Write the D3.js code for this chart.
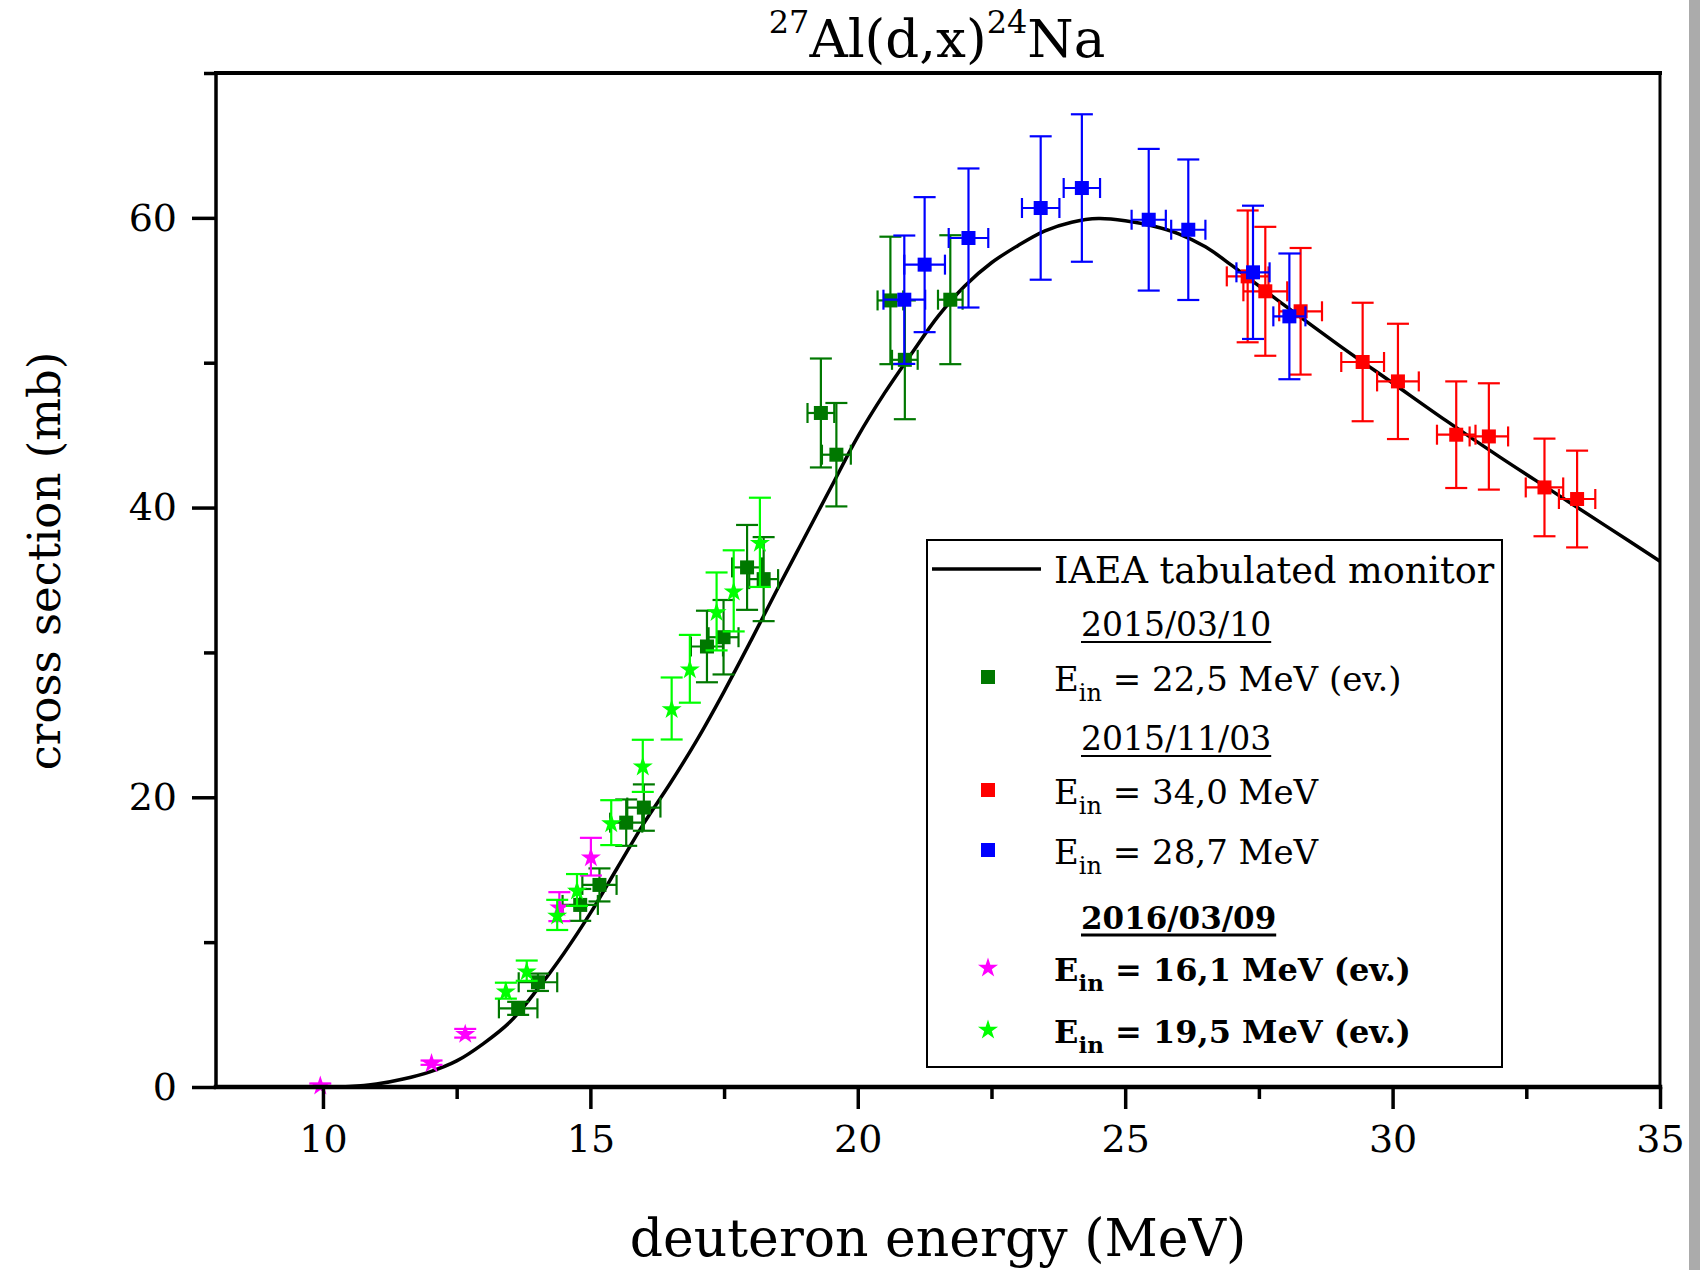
<!DOCTYPE html>
<html><head><meta charset="utf-8">
<script src="https://cdn.jsdelivr.net/npm/d3@7"></script>
<style>body{margin:0;background:#fff} svg{display:block} text{font-family:'DejaVu Serif',serif;fill:#000}</style>
</head><body><svg id="c" width="1700" height="1270"></svg>
<script>
// ---------- DATA ----------
// IAEA tabulated monitor curve
const curveE  = [10.1,10.5,11.0,11.5,12.0,12.5,13.0,13.5,14.0,14.5,15.0,15.5,16.0,16.5,17.0,17.5,18.0,18.5,19.0,19.5,20.0,20.5,21.0,21.5,22.0,22.5,23.0,23.5,24.0,24.5,25.0,25.5,26.0,26.5,27.0,27.5,28.0,29.0,30.0,31.0,32.0,33.0,34.0,35.0];
const curveXS = [0,0.03,0.2,0.55,1.05,1.8,3.0,4.5,6.7,9.2,12.0,15.1,18.2,21.0,24.0,27.3,30.8,34.4,37.9,41.4,44.9,47.9,50.6,53.2,55.3,56.9,58.1,59.1,59.7,59.95,59.8,59.45,58.9,58.0,56.7,55.3,53.9,51.2,48.6,46.0,43.5,41.1,38.7,36.3];

// 2015/03/10  Ein = 22,5 MeV (ev.)
const g225E   = [13.65,14.02,14.81,15.17,15.67,16.00,17.18,17.49,17.93,18.24,19.31,19.60,20.61,20.88,21.73];
const g225XS  = [5.43,7.23,12.57,13.95,18.25,19.29,30.41,31.05,35.87,35.06,46.53,43.65,54.30,50.20,54.35];
const g225dXS = [0.45,0.6,1.1,1.14,1.6,1.6,2.47,2.57,2.93,2.9,3.76,3.57,4.4,4.1,4.45];
const g225dE  = [0.36,0.36,0.33,0.32,0.30,0.31,0.30,0.28,0.28,0.27,0.25,0.27,0.24,0.24,0.23];

// 2015/11/03  Ein = 34,0 MeV
const r340E   = [27.29,27.62,28.28,29.44,30.10,31.19,31.80,32.84,33.45];
const r340XS  = [55.96,54.93,53.55,50.05,48.71,45.03,44.91,41.39,40.59];
const r340dXS = [4.55,4.45,4.37,4.09,3.98,3.68,3.67,3.37,3.34];
const r340dE  = [0.39,0.41,0.40,0.40,0.39,0.36,0.36,0.35,0.34];

// 2015/11/03  Ein = 28,7 MeV
const b287E   = [20.87,21.25,22.07,23.42,24.19,25.44,26.18,27.39,28.07];
const b287XS  = [54.35,56.77,58.61,60.68,62.06,59.87,59.18,56.24,53.20];
const b287dXS = [4.43,4.66,4.8,4.95,5.09,4.89,4.85,4.6,4.34];
const b287dE  = [0.39,0.38,0.37,0.35,0.34,0.32,0.32,0.31,0.30];

// 2016/03/09  Ein = 16,1 MeV (ev.)
const m161E   = [9.95,12.03,12.66,14.42,15.01];
const m161XS  = [0.14,1.68,3.71,12.45,15.90];
const m161dXS = [0.1,0.15,0.3,1.0,1.3];

// 2016/03/09  Ein = 19,5 MeV (ev.)
const l195E   = [13.42,13.81,14.38,14.75,15.39,15.98,16.52,16.86,17.36,17.68,18.17];
const l195XS  = [6.65,8.03,11.88,13.60,18.25,22.17,26.13,28.87,32.83,34.25,37.60];
const l195dXS = [0.55,0.7,1.04,1.1,1.55,1.8,2.14,2.34,2.69,2.8,3.08];

// ticks
const xMajorTicks = [10,15,20,25,30,35];
const xMinorTicks = [12.5,17.5,22.5,27.5,32.5];
const yMajorTicks = [0,20,40,60];
const yMinorTicks = [10,30,50,70];

// ---------- CHART ----------
const W = 1700, H = 1270;
const m = {l:216, r:1660, t:73, b:1087};
const svg = d3.select('#c');
const x = d3.scaleLinear().domain([8,35]).range([m.l,m.r]);
const y = d3.scaleLinear().domain([0,70]).range([m.b,m.t]);

svg.append('rect').attr('width',W).attr('height',H).attr('fill','#fff');
svg.append('rect').attr('x',1689).attr('y',0).attr('width',11).attr('height',H).attr('fill','#ababab');

// curve
const line = d3.line().x(d=>x(d[0])).y(d=>y(d[1])).curve(d3.curveCatmullRom.alpha(0.5));
svg.append('path').datum(curveE.map((e,i)=>[e,curveXS[i]]))
  .attr('d',line).attr('fill','none').attr('stroke','#000').attr('stroke-width',3.5);

const series = [
  {E:g225E, XS:g225XS, dXS:g225dXS, dE:g225dE, color:'#007800', sym:'square'},
  {E:r340E, XS:r340XS, dXS:r340dXS, dE:r340dE, color:'#ff0000', sym:'square'},
  {E:b287E, XS:b287XS, dXS:b287dXS, dE:b287dE, color:'#0000ff', sym:'square'},
  {E:m161E, XS:m161XS, dXS:m161dXS, dE:null, color:'#ff00ff', sym:'star'},
  {E:l195E, XS:l195XS, dXS:l195dXS, dE:null, color:'#00ff00', sym:'star'}
];

const capW = 11, capH = 10, sq = 14;
const starPath = d3.symbol(d3.symbolStar, 125)();

function marker(g, sym, color, cx, cy) {
  if (sym === 'square') {
    g.append('rect').attr('x',cx-sq/2).attr('y',cy-sq/2).attr('width',sq).attr('height',sq).attr('fill',color);
  } else {
    g.append('path').attr('d',starPath).attr('transform',`translate(${cx},${cy+1})`).attr('fill',color);
  }
}

series.forEach(s => {
  const g = svg.append('g').attr('stroke',s.color).attr('stroke-width',2.2);
  s.E.forEach((e,i) => {
    const cx = x(e), cy = y(s.XS[i]);
    const y1 = y(s.XS[i]+s.dXS[i]), y2 = y(s.XS[i]-s.dXS[i]);
    g.append('line').attr('x1',cx).attr('x2',cx).attr('y1',y1).attr('y2',y2);
    g.append('line').attr('x1',cx-capW).attr('x2',cx+capW).attr('y1',y1).attr('y2',y1);
    g.append('line').attr('x1',cx-capW).attr('x2',cx+capW).attr('y1',y2).attr('y2',y2);
    if (s.dE) {
      const x1 = x(e-s.dE[i]), x2 = x(e+s.dE[i]);
      g.append('line').attr('x1',x1).attr('x2',x2).attr('y1',cy).attr('y2',cy);
      g.append('line').attr('x1',x1).attr('x2',x1).attr('y1',cy-capH).attr('y2',cy+capH);
      g.append('line').attr('x1',x2).attr('x2',x2).attr('y1',cy-capH).attr('y2',cy+capH);
    }
  });
  const gm = svg.append('g');
  s.E.forEach((e,i) => marker(gm, s.sym, s.color, x(e), y(s.XS[i])));
});

// axes
function styleAxis(g, w) {
  g.select('.domain').remove();
  g.selectAll('.tick line').attr('stroke','#000').attr('stroke-width',w);
  g.selectAll('.tick text').attr('font-size',38).attr('font-family','DejaVu Serif').attr('fill','#000');
}
const gx = svg.append('g').attr('transform',`translate(0,${m.b})`)
  .call(d3.axisBottom(x).tickValues(xMajorTicks).tickSize(22).tickPadding(16).tickFormat(d3.format('d')));
styleAxis(gx, 3.5);
const gxm = svg.append('g').attr('transform',`translate(0,${m.b})`)
  .call(d3.axisBottom(x).tickValues(xMinorTicks).tickSize(12).tickFormat(''));
styleAxis(gxm, 3.5);
const gy = svg.append('g').attr('transform',`translate(${m.l},0)`)
  .call(d3.axisLeft(y).tickValues(yMajorTicks).tickSize(24).tickPadding(15).tickFormat(d3.format('d')));
styleAxis(gy, 3.5);
const gym = svg.append('g').attr('transform',`translate(${m.l},0)`)
  .call(d3.axisLeft(y).tickValues(yMinorTicks).tickSize(12).tickFormat(''));
styleAxis(gym, 3.5);

// frame
const fr = svg.append('g').attr('stroke','#000').attr('stroke-linecap','square');
fr.append('line').attr('x1',m.l).attr('x2',m.r).attr('y1',m.b).attr('y2',m.b).attr('stroke-width',4.5);
fr.append('line').attr('x1',m.l).attr('x2',m.l).attr('y1',m.t).attr('y2',m.b).attr('stroke-width',3.5);
fr.append('line').attr('x1',m.l).attr('x2',m.r).attr('y1',m.t).attr('y2',m.t).attr('stroke-width',4);
fr.append('line').attr('x1',m.r).attr('x2',m.r).attr('y1',m.t).attr('y2',m.b).attr('stroke-width',3);

// title
const title = svg.append('text').attr('x',937).attr('y',57).attr('text-anchor','middle').attr('font-size',53);
title.append('tspan').text('27').attr('font-size',32).attr('dy',-24);
title.append('tspan').text('Al(d,x)').attr('dy',24);
title.append('tspan').text('24').attr('font-size',32).attr('dy',-24);
title.append('tspan').text('Na').attr('dy',24);

// axis titles
svg.append('text').attr('x',938).attr('y',1256).attr('text-anchor','middle').attr('font-size',52).text('deuteron energy (MeV)');
svg.append('text').attr('transform','translate(60,561) rotate(-90)').attr('text-anchor','middle').attr('font-size',45).text('cross section (mb)');

// legend
const lg = svg.append('g');
lg.append('rect').attr('x',927).attr('y',540).attr('width',575).attr('height',527)
  .attr('fill','#fff').attr('stroke','#000').attr('stroke-width',2);
lg.append('line').attr('x1',932).attr('x2',1041).attr('y1',569).attr('y2',569).attr('stroke','#000').attr('stroke-width',3.5);
lg.append('text').attr('x',1054).attr('y',583).attr('font-size',36.6).text('IAEA tabulated monitor');

const legendHeads = [
  {text:'2015/03/10', base:636, bold:false},
  {text:'2015/11/03', base:750, bold:false},
  {text:'2016/03/09', base:929, bold:true}
];
legendHeads.forEach(h => {
  const t = lg.append('text').attr('x',1081).attr('y',h.base).attr('font-size',h.bold?31:33)
    .attr('font-weight',h.bold?'bold':'normal').text(h.text);
  const w = t.node().getComputedTextLength();
  lg.append('line').attr('x1',1081).attr('x2',1081+w).attr('y1',h.base+6).attr('y2',h.base+6)
    .attr('stroke','#000').attr('stroke-width',h.bold?3:2);
});

const legendItems = [
  {s:series[0], label:' = 22,5 MeV (ev.)', base:691, bold:false},
  {s:series[1], label:' = 34,0 MeV', base:804, bold:false},
  {s:series[2], label:' = 28,7 MeV', base:864, bold:false},
  {s:series[3], label:' = 16,1 MeV (ev.)', base:981, bold:true},
  {s:series[4], label:' = 19,5 MeV (ev.)', base:1043, bold:true}
];
legendItems.forEach(it => {
  marker(lg, it.s.sym, it.s.color, 988, it.base-14);
  const t = lg.append('text').attr('x',1054).attr('y',it.base).attr('font-size',it.bold?32:34)
    .attr('font-weight',it.bold?'bold':'normal');
  t.append('tspan').text('E');
  t.append('tspan').text('in').attr('font-size',it.bold?23:24).attr('dy',10);
  t.append('tspan').text(it.label).attr('dy',-10);
});
</script></body></html>
